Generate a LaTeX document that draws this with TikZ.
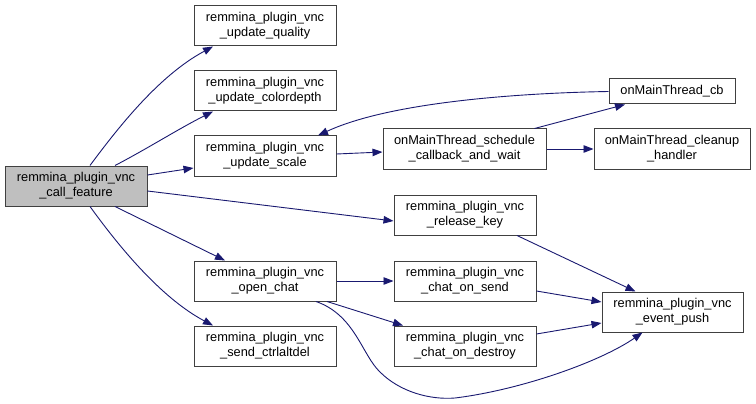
\documentclass[tikz,border=0pt]{standalone}
\usepackage{fontspec}
\setmainfont{Liberation Sans}
\usetikzlibrary{arrows.meta}
\definecolor{edgecol}{HTML}{191970}
\definecolor{boxcol}{HTML}{404040}
\tikzset{
  fn/.style={draw=boxcol, line width=1pt, fill=white, minimum width=142pt, minimum height=40pt, inner sep=0pt, align=center, font=\fontsize{12.8pt}{15pt}\selectfont},
  edge/.style={draw=edgecol, line width=0.9pt, -{Triangle[length=10pt,width=7.5pt]}}
}
\begin{document}
\begin{tikzpicture}[x=1pt,y=-1pt]
\useasboundingbox (0,0) rectangle (756,404);
\node[fn, fill={rgb,255:red,191;green,191;blue,191}] (call) at (76,186) {remmina\_plugin\_vnc\\\_call\_feature};
\node[fn] (quality) at (265,26) {remmina\_plugin\_vnc\\\_update\_quality};
\node[fn] (colordepth) at (265,91) {remmina\_plugin\_vnc\\\_update\_colordepth};
\node[fn] (scale) at (265,156) {remmina\_plugin\_vnc\\\_update\_scale};
\node[fn] (openchat) at (265,281) {remmina\_plugin\_vnc\\\_open\_chat};
\node[fn] (ctrlaltdel) at (265,346) {remmina\_plugin\_vnc\\\_send\_ctrlaltdel};
\node[fn, minimum width=163pt] (schedule) at (464.5,149) {onMainThread\_schedule\\\_callback\_and\_wait};
\node[fn, minimum width=126pt, minimum height=25pt] (cb) at (672,91.5) {onMainThread\_cb};
\node[fn, minimum width=156pt] (cleanup) at (672,149) {onMainThread\_cleanup\\\_handler};
\node[fn] (release) at (465,215) {remmina\_plugin\_vnc\\\_release\_key};
\node[fn] (chatsend) at (465,281) {remmina\_plugin\_vnc\\\_chat\_on\_send};
\node[fn] (chatdestroy) at (465,346) {remmina\_plugin\_vnc\\\_chat\_on\_destroy};
\node[fn, minimum width=141pt] (eventpush) at (672.5,312) {remmina\_plugin\_vnc\\\_event\_push};

\draw[edge] ([xshift=14pt]call.north) .. controls (120,125) and (160,75) .. ([xshift=-52pt]quality.south);
\draw[edge] ([xshift=39pt]call.north) .. controls (145,150) and (180,128) .. ([xshift=-52pt]colordepth.south);
\draw[edge] ([yshift=11pt]call.east) -- ([yshift=-12pt]scale.west);
\draw[edge] ([yshift=-5pt]call.east) -- ([yshift=-6pt]release.west);
\draw[edge] ([xshift=39pt]call.south) -- ([xshift=-40pt]openchat.north);
\draw[edge] ([xshift=14pt]call.south) .. controls (125,255) and (165,300) .. ([xshift=-52pt]ctrlaltdel.north);
\draw[edge] ([yshift=2pt]scale.east) -- ([yshift=-3pt]schedule.west);
\draw[edge] ([xshift=70pt]schedule.north) -- ([xshift=-47pt]cb.south);
\draw[edge] (schedule.east) -- (cleanup.west);
\draw[edge] (cb.west) .. controls (520,93) and (390,102) .. ([xshift=53pt]scale.north);
\draw[edge] ([xshift=52pt]release.south) -- ([xshift=-37pt]eventpush.north);
\draw[edge] (openchat.east) -- (chatsend.west);
\draw[edge] ([xshift=62pt]openchat.south) -- ([xshift=-62pt]chatdestroy.north);
\draw[edge] ([xshift=51pt]openchat.south) .. controls (355,315) and (362,355) .. (380,372) .. controls (400,392) and (430,400) .. (455,398) .. controls (520,390) and (600,362) .. ([xshift=-30pt]eventpush.south);
\draw[edge] ([yshift=-10pt]chatsend.east) -- ([yshift=10pt]eventpush.west);
\draw[edge] ([yshift=12pt]chatdestroy.east) -- ([yshift=-11pt]eventpush.west);
\end{tikzpicture}
\end{document}
